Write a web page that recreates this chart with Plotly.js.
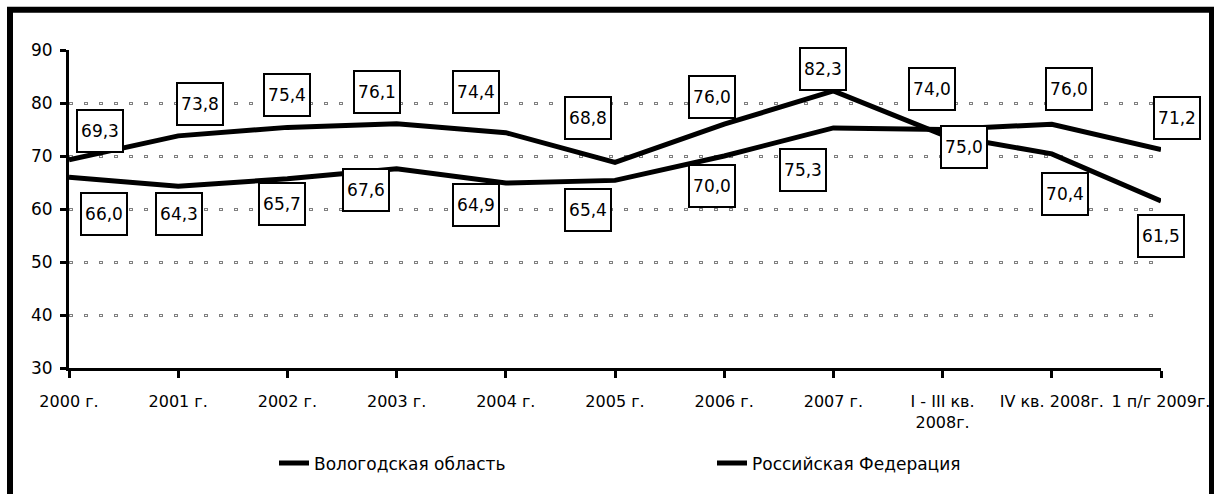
<!DOCTYPE html>
<html>
<head>
<meta charset="utf-8">
<script src="https://cdn.plot.ly/plotly-3.0.1.min.js"></script>
<style>html,body{margin:0;padding:0;background:#fff;}#chart{width:1214px;height:494px;}</style>
</head>
<body>
<div id="chart"></div>
<script>
// ---- data ----
const categories = ["2000 г.", "2001 г.", "2002 г.", "2003 г.", "2004 г.", "2005 г.", "2006 г.", "2007 г.", "I - III кв.<br>2008г.", "IV кв. 2008г.", "1 п/г 2009г."];
const seriesNames = ["Вологодская область", "Российская Федерация"];
const vologda = [69.3, 73.8, 75.4, 76.1, 74.4, 68.8, 76.0, 82.3, 74.0, 70.4, 61.5];
const russia  = [66.0, 64.3, 65.7, 67.6, 64.9, 65.4, 70.0, 75.3, 75.0, 76.0, 71.2];
const yTicks = [30, 40, 50, 60, 70, 80, 90];

// ---- label box offsets (pixels, right / down) ----
const offVologda = [[31,-29],[22,-32],[0,-32],[-20,-32],[-30,-41],[-27,-44],[-12,-27],[-10,-22],[-11,-46],[13,40],[0,35]];
const offRussia  = [[35,37],[1,28],[-5,25],[-31,21],[-30,22],[-27,30],[-12,30],[-30,42],[21,17],[17,-35],[16,-32]];

const FONT = "DejaVu Sans, Liberation Sans, Arial, sans-serif";
const fmt = v => v.toFixed(1).replace('.', ',');

const traces = [
  {x: categories, y: vologda, name: seriesNames[0], type: 'scatter', mode: 'lines',
   line: {color: '#000', width: 5}},
  {x: categories, y: russia, name: seriesNames[1], type: 'scatter', mode: 'lines',
   line: {color: '#000', width: 5}},
  // carrier for the overlay axis that draws the white inner of the hollow grid squares
  {x: categories, y: vologda, yaxis: 'y2', type: 'scatter', mode: 'lines',
   line: {color: 'rgba(0,0,0,0)', width: 0}, showlegend: false, hoverinfo: 'skip'}
];

function boxes(vals, offs) {
  return vals.map((v, i) => ({
    x: categories[i], y: v, xref: 'x', yref: 'y',
    text: fmt(v), showarrow: false,
    xshift: offs[i][0], yshift: -offs[i][1],
    width: 44, height: 40, borderpad: 0,
    bgcolor: '#fff', bordercolor: '#000', borderwidth: 2,
    font: {family: FONT, size: 17, color: '#000'}
  }));
}

const W = 1092, H = 323, L = 69, T = 50;
const px = p => (p - L) / W;
const py = p => (T + H - p) / H;

const layout = {
  width: 1214, height: 494,
  margin: {l: L, r: 1214 - L - W, t: T, b: 494 - T - H},
  paper_bgcolor: '#fff', plot_bgcolor: '#fff',
  showlegend: true,
  font: {family: FONT, size: 16, color: '#000'},
  xaxis: {
    type: 'category', range: [0, categories.length - 1],
    showline: true, linecolor: '#000', linewidth: 3,
    ticks: 'outside', ticklen: 7, tickwidth: 3, tickcolor: '#000',
    showgrid: false, zeroline: false, ticklabelstandoff: 10,
    tickfont: {family: FONT, size: 16, color: '#000'}
  },
  yaxis: {
    range: [30, 90], tickvals: yTicks, ticktext: yTicks.map(String),
    showline: true, linecolor: '#000', linewidth: 3,
    ticks: 'outside', ticklen: 6, tickwidth: 3, tickcolor: '#000',
    showgrid: true, gridcolor: '#808080', gridwidth: 3, griddash: '4px,11px',
    zeroline: false, ticklabelstandoff: 4,
    tickfont: {family: FONT, size: 17, color: '#000'}
  },
  yaxis2: {
    range: [30, 90], tickvals: yTicks, overlaying: 'y', side: 'left',
    showticklabels: false, showline: false, ticks: '',
    showgrid: true, gridcolor: '#fff', gridwidth: 1, griddash: '0px,1px,2px,12px',
    zeroline: false
  },
  legend: {
    orientation: 'h', x: px(274), xanchor: 'left', y: py(470), yanchor: 'middle',
    entrywidth: 393, entrywidthmode: 'pixels',
    font: {family: FONT, size: 17, color: '#000'},
    bgcolor: 'rgba(0,0,0,0)'
  },
  annotations: boxes(vologda, offVologda).concat(boxes(russia, offRussia)),
  shapes: [{
    type: 'rect', xref: 'paper', yref: 'paper',
    x0: px(10), x1: px(1212), y0: py(9), y1: py(520),
    line: {color: '#000', width: 6}, fillcolor: 'rgba(0,0,0,0)', layer: 'above'
  }]
};

Plotly.newPlot('chart', traces, layout, {displayModeBar: false, staticPlot: true});
</script>
</body>
</html>
